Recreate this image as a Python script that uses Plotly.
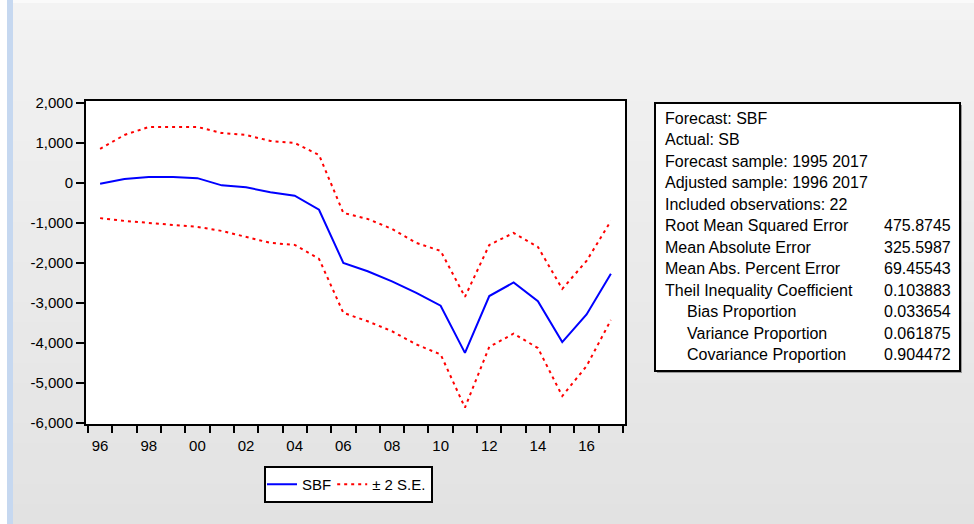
import plotly.graph_objects as go

# ---------------- data ----------------
years = list(range(1996, 2018))
sbf = [-20, 100, 150, 150, 120, -60, -110, -230, -320, -670,
       -2000, -2210, -2460, -2750, -3070, -4250, -2830, -2490, -2960, -3980, -3290, -2270]
upper = [850, 1200, 1400, 1400, 1400, 1250, 1200, 1050, 1000, 700,
         -750, -900, -1150, -1500, -1700, -2850, -1550, -1250, -1600, -2650, -1950, -950]
lower = [-880, -950, -1000, -1050, -1100, -1200, -1350, -1500, -1550, -1900,
         -3250, -3460, -3710, -4040, -4290, -5620, -4100, -3770, -4130, -5330, -4580, -3430]

x_tick_vals = list(range(1996, 2017, 2))
x_tick_text = ["96", "98", "00", "02", "04", "06", "08", "10", "12", "14", "16"]
y_tick_vals = [2000, 1000, 0, -1000, -2000, -3000, -4000, -5000, -6000]
y_tick_text = ["2,000", "1,000", "0", "-1,000", "-2,000", "-3,000", "-4,000", "-5,000", "-6,000"]

stat_labels = ["Forecast: SBF", "Actual: SB", "Forecast sample: 1995 2017",
               "Adjusted sample: 1996 2017", "Included observations: 22",
               "Root Mean Squared Error", "Mean Absolute Error",
               "Mean Abs. Percent Error", "Theil Inequality Coefficient",
               "Bias Proportion", "Variance Proportion", "Covariance Proportion"]
stat_values = ["", "", "", "", "", "475.8745", "325.5987", "69.45543",
               "0.103883", "0.033654", "0.061875", "0.904472"]
stat_indent = [False] * 9 + [True] * 3

# ---------------- layout geometry (pixels) ----------------
W, H = 974, 524
PL, PR, PT, PB = 86, 625, 101, 424


def fx(px):
    return (px - PL) / (PR - PL)


def fy(py):
    return (PB - py) / (PB - PT)


FONT = "Liberation Sans, Arial, sans-serif"

fig = go.Figure()
fig.add_trace(go.Scatter(x=years, y=sbf, mode="lines", name="SBF",
                         line=dict(color="#0000ff", width=2)))
fig.add_trace(go.Scatter(x=years, y=upper, mode="lines", name="± 2 S.E.",
                         line=dict(color="#ff0000", width=2, dash="3px,4px")))
fig.add_trace(go.Scatter(x=years, y=lower, mode="lines", name="± 2 S.E.",
                         showlegend=False,
                         line=dict(color="#ff0000", width=2, dash="3px,4px")))

shapes = []
# background gradient bands
n = 26
c_top, c_bot = 0xf3, 0xe2
for i in range(n):
    y0 = H * i / n
    y1 = H * (i + 1) / n + 1
    c = round(c_top + (c_bot - c_top) * (i + 0.5) / n)
    col = f"rgb({c},{c},{c})"
    shapes.append(dict(type="rect", xref="paper", yref="paper", layer="below",
                       x0=fx(0), x1=fx(W), y0=fy(y1), y1=fy(y0),
                       fillcolor=col, line=dict(width=0)))
# top white strip, left white & blue strips
shapes.append(dict(type="rect", xref="paper", yref="paper", layer="below",
                   x0=fx(0), x1=fx(W), y0=fy(3), y1=fy(0),
                   fillcolor="#fafafa", line=dict(width=0)))
shapes.append(dict(type="rect", xref="paper", yref="paper", layer="below",
                   x0=fx(0), x1=fx(7), y0=fy(H), y1=fy(0),
                   fillcolor="#ffffff", line=dict(width=0)))
shapes.append(dict(type="rect", xref="paper", yref="paper", layer="below",
                   x0=fx(7), x1=fx(13), y0=fy(H), y1=fy(0),
                   fillcolor="#c6d8f0", line=dict(width=0)))
# plot area white + shadow
shapes.append(dict(type="rect", xref="paper", yref="paper", layer="below",
                   x0=fx(PL), x1=fx(PR + 2), y0=fy(PB), y1=fy(PT - 2),
                   fillcolor="#9a9a9a", line=dict(width=0)))
shapes.append(dict(type="rect", xref="paper", yref="paper", layer="below",
                   x0=0, x1=1, y0=0, y1=1,
                   fillcolor="#ffffff", line=dict(width=0)))
# stats box with shadow
BL, BT, BR, BB = 655, 103, 960, 371
shapes.append(dict(type="rect", xref="paper", yref="paper", layer="below",
                   x0=fx(BL + 2), x1=fx(BR + 2), y0=fy(BB + 2), y1=fy(BT + 2),
                   fillcolor="#9a9a9a", line=dict(width=0)))
shapes.append(dict(type="rect", xref="paper", yref="paper", layer="below",
                   x0=fx(BL), x1=fx(BR), y0=fy(BB), y1=fy(BT),
                   fillcolor="#ffffff", line=dict(color="#000000", width=2)))

annotations = []
for i, (lab, val, ind) in enumerate(zip(stat_labels, stat_values, stat_indent)):
    yc = 118 + 21.5 * i
    annotations.append(dict(xref="paper", yref="paper", x=fx(685 if ind else 663), y=fy(yc),
                            text=lab, showarrow=False, xanchor="left", yanchor="middle",
                            font=dict(family=FONT, size=16, color="#000000")))
    if val:
        annotations.append(dict(xref="paper", yref="paper", x=fx(953), y=fy(yc),
                                text=val, showarrow=False, xanchor="right", yanchor="middle",
                                font=dict(family=FONT, size=16, color="#000000")))

fig.update_layout(
    width=W, height=H,
    margin=dict(l=PL, r=W - PR, t=PT, b=H - PB, pad=0),
    paper_bgcolor="#ececec", plot_bgcolor="#ffffff",
    font=dict(family=FONT, size=15, color="#000000"),
    shapes=shapes, annotations=annotations,
    showlegend=True,
    legend=dict(orientation="h", x=fx(264), y=fy(466), xanchor="left", yanchor="top",
                bgcolor="#ffffff", bordercolor="#000000", borderwidth=2,
                font=dict(family=FONT, size=15, color="#000000"),
                itemwidth=30, tracegroupgap=0, indentation=-4),
)
fig.update_xaxes(range=[1995.42, 2017.58], showgrid=False, zeroline=False,
                 showline=True, linecolor="#000000", linewidth=2, mirror=True,
                 tickmode="array", tickvals=x_tick_vals, ticktext=x_tick_text,
                 ticks="outside", ticklen=7, tickcolor="rgba(0,0,0,0)",
                 tickfont=dict(family=FONT, size=15, color="#000000"),
                 minor=dict(tickmode="linear", tick0=1995.5, dtick=1, ticks="outside",
                            ticklen=7, tickwidth=2, tickcolor="#000000", showgrid=False))
fig.update_yaxes(range=[-6030, 2050], showgrid=False, zeroline=False,
                 showline=True, linecolor="#000000", linewidth=2, mirror=True,
                 tickmode="array", tickvals=y_tick_vals, ticktext=y_tick_text,
                 ticks="outside", ticklen=8, tickwidth=2, tickcolor="#000000",
                 tickfont=dict(family=FONT, size=15, color="#000000"))

fig.write_html("out.html", config={"displayModeBar": False},
               post_script="document.body.style.margin='0';document.body.style.padding='0';")
